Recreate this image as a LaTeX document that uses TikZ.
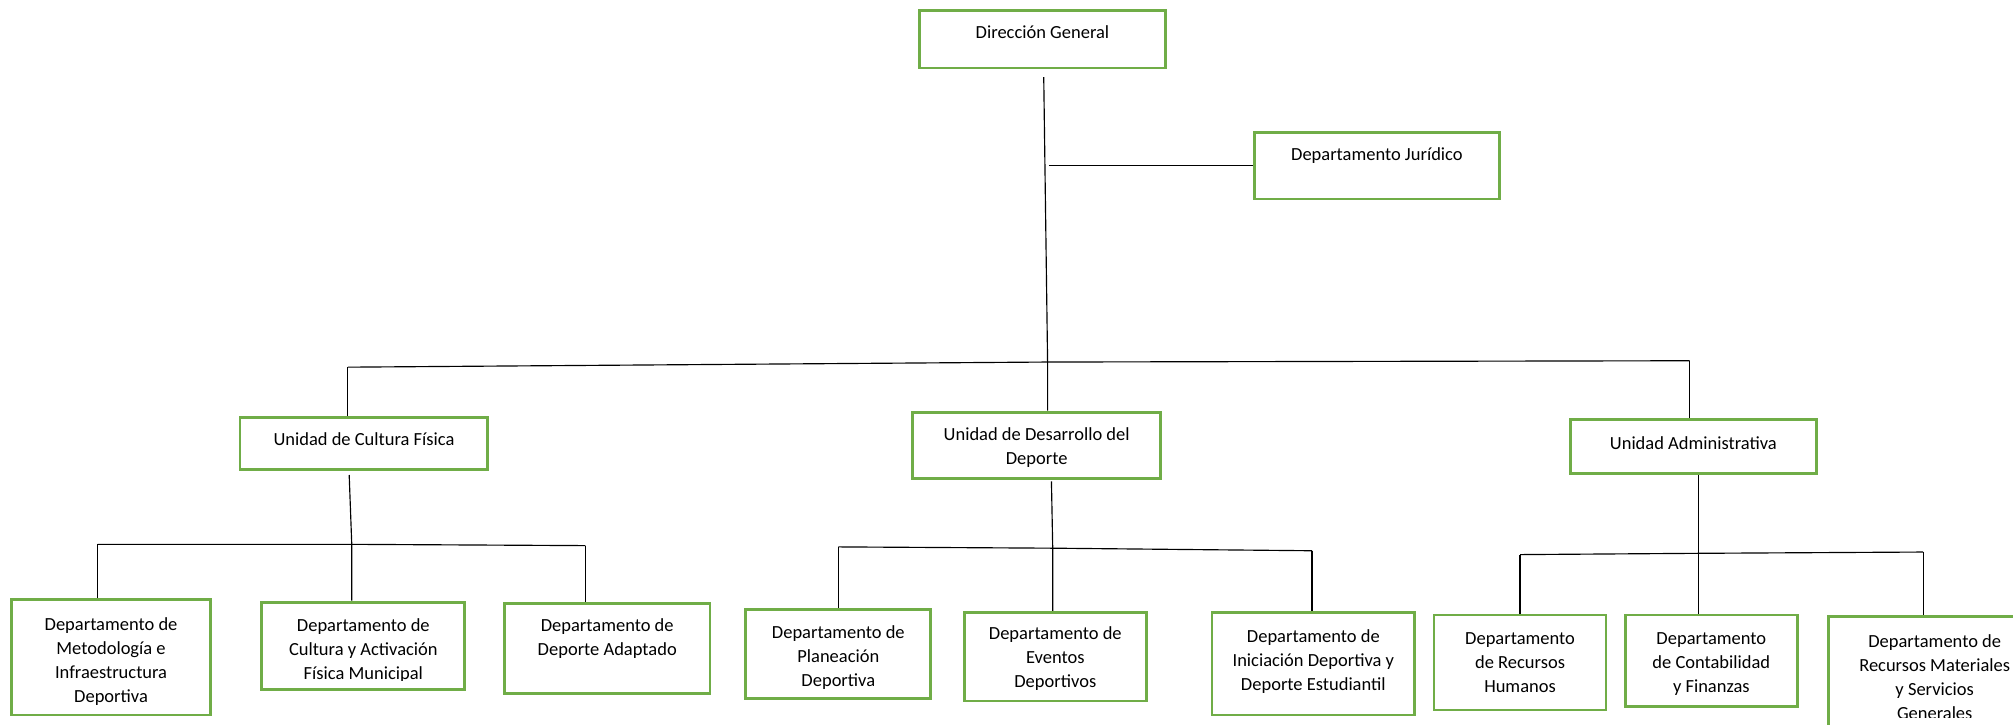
\documentclass[tikz,border=0pt]{standalone}
\usepackage{fontspec}
\setmainfont{Carlito}
\usetikzlibrary{fit}
\definecolor{boxgreen}{HTML}{70AD47}
\tikzset{
  orgbox/.style={draw=boxgreen, line width=2.2pt, inner sep=0pt},
  orgtext/.style={align=center, inner sep=0pt, anchor=north, font=\fontsize{14.4}{18.7}\selectfont},
  link/.style={draw=black, line width=0.9pt},
}
\newcommand\orgnode[7]{%
  \node[orgbox, fit={(#2,#3) (#4,#5)}] (#1) {};
  \begin{scope}
    \clip (#2,#3) rectangle (#4,#5-7);
    \node[orgtext] (#1t) at ({(#2+#4)/2},#6-13.09) {\strut #7};
  \end{scope}
}
\begin{document}
\begin{tikzpicture}[x=1pt,y=-1pt]
\useasboundingbox (0,0) rectangle (1568,564);
\fill[white] (0,0) rectangle (1568,564);

% boxes: name, x1, y1, x2, y2, first baseline, text
\orgnode{dg}{716}{8}{908}{53}{30}{Dirección General}
\orgnode{jur}{977}{103}{1168}{155}{125}{Departamento Jurídico}
\orgnode{ucf}{187}{325}{380}{366}{347}{Unidad de Cultura Física}
\orgnode{ud}{711}{321}{904}{373}{343}{Unidad de Desarrollo del\\Deporte}
\orgnode{ua}{1223}{327}{1415}{369}{350}{Unidad Administrativa}
\orgnode{b6}{9}{467}{164}{557}{491}{Departamento de\\Metodología e\\Infraestructura\\Deportiva}
\orgnode{b7}{204}{469}{362}{537}{492}{Departamento de\\Cultura y Activación\\Física Municipal}
\orgnode{b8}{393}{470}{553}{540}{492}{Departamento de\\Deporte Adaptado}
\orgnode{b9}{581}{475}{725}{544}{497}{Departamento de\\Planeación\\Deportiva}
\orgnode{b10}{751}{477}{893}{546}{498}{Departamento de\\Eventos\\Deportivos}
\orgnode{b11}{944}{477}{1102}{557}{500}{Departamento de\\Iniciación Deportiva y\\Deporte Estudiantil}
\orgnode{b12}{1117}{479}{1251}{553}{502}{Departamento\\de Recursos\\Humanos}
\orgnode{b13}{1266}{479}{1400}{550}{502}{Departamento\\de Contabilidad\\y Finanzas}
\orgnode{b14}{1424}{480}{1590}{565.5}{504}{Departamento de\\Recursos Materiales\\y Servicios\\Generales}

% level 1 connectors
\coordinate (t0) at (813,60);
\coordinate (jj) at (817,129);
\coordinate (h0) at (816,282);
\coordinate (hL) at (271,286);
\coordinate (hR) at (1316,281);
\draw[link] (t0) -- (h0) -- (h0 |- ud.north);
\draw[link] (jj) -- (jur.west |- jj);
\draw[link] (hL) -- (h0) -- (hR);
\draw[link] (hL) -- (hL |- ucf.north);
\draw[link] (hR) -- (hR |- ua.north);

% level 2: Cultura Fisica
\coordinate (c1t) at (272,370);
\coordinate (c1) at (274,424);
\coordinate (c1L) at (76,424);
\coordinate (c1R) at (456,425);
\draw[link] (c1t) -- (c1) -- (c1 |- b7.north);
\draw[link] (c1L) -- (c1) -- (c1R);
\draw[link] (c1L) -- (c1L |- b6.north);
\draw[link] (c1R) -- (c1R |- b8.north);

% level 2: Desarrollo del Deporte
\coordinate (c2t) at (819,375);
\coordinate (c2) at (820,427);
\coordinate (c2L) at (653,426);
\coordinate (c2R) at (1022,429);
\draw[link] (c2t) -- (c2) -- (c2 |- b10.north);
\draw[link] (c2L) -- (c2) -- (c2R);
\draw[link] (c2L) -- (c2L |- b9.north);
\draw[link] (c2R) -- (c2R |- b11.north);

% level 2: Administrativa
\coordinate (c3t) at (1323,370);
\coordinate (c3) at (1323,431);
\coordinate (c3L) at (1184,432);
\coordinate (c3R) at (1498,430);
\draw[link] (c3t) -- (c3) -- (c3 |- b13.north);
\draw[link] (c3L) -- (c3) -- (c3R);
\draw[link] (c3L) -- (c3L |- b12.north);
\draw[link] (c3R) -- (c3R |- b14.north);
\end{tikzpicture}
\end{document}
